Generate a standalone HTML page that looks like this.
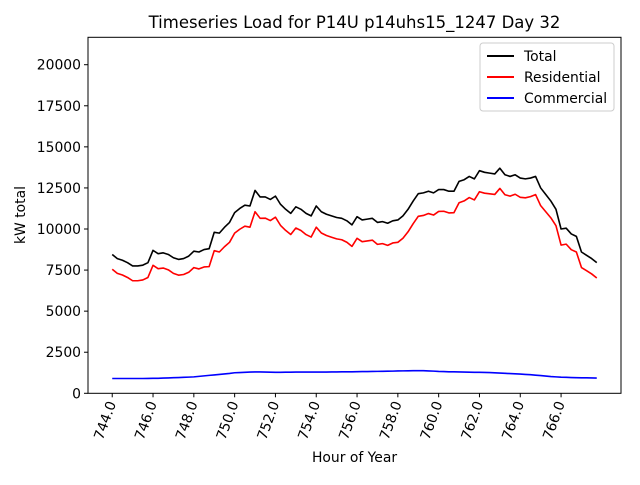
<!DOCTYPE html>
<html><head><meta charset="utf-8"><style>
body{margin:0;background:#fff}
svg text{font-family:"DejaVu Sans","Liberation Sans",sans-serif;fill:#000}
</style></head><body>
<svg id="chart" width="640" height="480" viewBox="0 0 640 480" xmlns="http://www.w3.org/2000/svg">
<rect width="640" height="480" fill="#fff"/>
<text x="354.5" y="28" font-size="16.5" text-anchor="middle">Timeseries Load for P14U p14uhs15_1247  Day 32</text>
<g id="marks"></g>
<g id="axes"></g>
<text x="354.5" y="462" font-size="13.9" text-anchor="middle">Hour of Year</text>
<text transform="translate(25,215) rotate(-90)" font-size="13.9" text-anchor="middle">kW total</text>
<g>
<rect x="480" y="43" width="134" height="68" fill="#fff" fill-opacity="0.8" stroke="#ccc" rx="3"/>
<line x1="487" y1="56" x2="514" y2="56" stroke="#000" stroke-width="2"/>
<text x="524" y="61" font-size="13.9">Total</text>
<line x1="487" y1="77" x2="514" y2="77" stroke="#f00" stroke-width="2"/>
<text x="524" y="82" font-size="13.9">Residential</text>
<line x1="487" y1="98" x2="514" y2="98" stroke="#00f" stroke-width="2"/>
<text x="524" y="103" font-size="13.9">Commercial</text>
</g>
</svg>
<script>
const startHour = 744;
const stepHours = 0.25;
const total = [8450,8200,8100,7950,7750,7750,7800,7950,8700,8500,8550,8450,8250,8150,8200,8350,8650,8600,8750,8800,9800,9750,10100,10400,11000,11250,11450,11400,12350,11950,11950,11800,12000,11500,11200,10950,11350,11200,10950,10800,11400,11050,10900,10800,10700,10650,10500,10250,10750,10550,10600,10650,10400,10450,10350,10500,10550,10800,11200,11700,12150,12200,12300,12200,12400,12400,12300,12300,12900,13000,13200,13050,13550,13450,13400,13350,13700,13300,13200,13300,13100,13050,13100,13200,12500,12100,11700,11200,10000,10050,9700,9550,8600,8400,8200,7950];
const residential = [7550,7300,7200,7050,6850,6850,6900,7050,7790,7585,7625,7515,7300,7190,7230,7365,7650,7570,7690,7710,8680,8600,8920,9190,9750,9985,10170,10110,11050,10650,10660,10515,10720,10220,9915,9665,10060,9910,9660,9510,10110,9755,9605,9500,9400,9345,9195,8940,9435,9230,9275,9320,9065,9110,9005,9150,9190,9435,9830,10325,10770,10825,10940,10850,11070,11080,10980,10995,11600,11710,11915,11770,12270,12180,12140,12105,12470,12085,12000,12115,11930,11900,11970,12095,11420,11050,10680,10200,9020,9080,8740,8600,7655,7460,7265,7020];
const commercial = [900,900,900,900,900,900,900,905,910,915,925,935,950,960,970,985,1000,1030,1060,1090,1120,1150,1180,1210,1250,1265,1280,1290,1300,1300,1290,1285,1280,1280,1285,1285,1290,1290,1290,1290,1290,1295,1295,1300,1300,1305,1305,1310,1315,1320,1325,1330,1335,1340,1345,1350,1360,1365,1370,1375,1380,1375,1360,1350,1330,1320,1310,1305,1300,1290,1285,1280,1280,1270,1260,1245,1230,1215,1200,1185,1170,1150,1130,1105,1080,1050,1020,1000,980,970,960,950,945,940,935,930];
const xTicks = [744,746,748,750,752,754,756,758,760,762,764,766];
const yTicks = [0,2500,5000,7500,10000,12500,15000,17500,20000];

const L=88,R=621,T=37.3,B=393.3;
const n=total.length;
const span=(n-1)*stepHours;
const x0=startHour-0.05*span, x1=startHour+span+0.05*span;
const yMax=21668;
const X=h=>L+(h-x0)/(x1-x0)*(R-L);
const Y=v=>B-v/yMax*(B-T);
const NS="http://www.w3.org/2000/svg";
const marks=document.getElementById('marks'), axes=document.getElementById('axes');
function mk(tag,attrs,parent){const e=document.createElementNS(NS,tag);for(const k in attrs)e.setAttribute(k,attrs[k]);parent.appendChild(e);return e;}
function series(arr,color,name){
  const pts=arr.map((v,i)=>X(startHour+i*stepHours).toFixed(2)+','+Y(v).toFixed(2)).join(' ');
  const p=mk('polyline',{points:pts,fill:'none',stroke:color,'stroke-width':1.6,'stroke-linejoin':'round'},marks);
  
  
}
series(total,'#000','total-line');
series(residential,'#f00','residential-line');
series(commercial,'#00f','commercial-line');
const frame=mk('rect',{x:L,y:T,width:R-L,height:B-T,fill:'none',stroke:'#000','stroke-width':1},axes);


xTicks.forEach(t=>{
  const x=X(t);
  const tk=mk('line',{x1:x,y1:B,x2:x,y2:B+4,stroke:'#000'},axes);
  
  
  const tx=mk('text',{transform:`translate(${x+4},${B+10}) rotate(-70)`,'font-size':13.9,'text-anchor':'end'},axes);
  tx.textContent=t.toFixed(1);
  
  
});
yTicks.forEach(t=>{
  const y=Y(t);
  const tk=mk('line',{x1:L-4,y1:y,x2:L,y2:y,stroke:'#000'},axes);
  
  
  const tx=mk('text',{x:L-7,y:y+5,'font-size':13.9,'text-anchor':'end'},axes);
  tx.textContent=t;
  
  
});
</script>
</body></html>
